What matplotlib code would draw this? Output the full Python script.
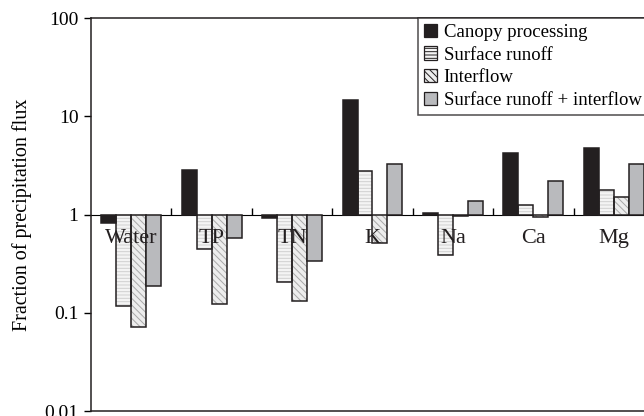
import numpy as np
import matplotlib.pyplot as plt
from matplotlib.patches import Patch

plt.rcParams["font.family"] = ["Liberation Serif", "DejaVu Serif"]
plt.rcParams["hatch.linewidth"] = 0.7

# Fraction of precipitation flux per constituent
categories = ["Water", "TP", "TN", "K", "Na", "Ca", "Mg"]
canopy = [0.82, 2.86, 0.93, 14.6, 1.03, 4.26, 4.79]
surface = [0.118, 0.447, 0.208, 2.77, 0.39, 1.24, 1.76]
interflow = [0.072, 0.123, 0.133, 0.518, 0.96, 0.94, 1.50]
combined = [0.188, 0.573, 0.339, 3.29, 1.38, 2.21, 3.24]

series_names = ["Canopy processing", "Surface runoff", "Interflow",
                "Surface runoff + interflow"]
series = [canopy, surface, interflow, combined]
faces = ["#231f20", "#f4f4f4", "#ededed", "#b9babd"]
hatches = [None, "-----", "\\\\\\\\\\", None]
hatch_cols = [None, "#d0d0d0", "#a8a8a8", None]
edge = "#231f20"

fig = plt.figure(figsize=(6.44, 4.16), dpi=100)
ax = fig.add_axes([0.1413, 0.012, 0.8742, 0.9447])

x = np.arange(len(categories))
w = 0.186
for k, vals in enumerate(series):
    pos = x + (k - 1.5) * w
    heights = [v - 1 for v in vals]
    if hatches[k]:
        ax.bar(pos, heights, w, bottom=1, color=faces[k], hatch=hatches[k],
               edgecolor=hatch_cols[k], linewidth=0, zorder=2)
        ax.bar(pos, heights, w, bottom=1, facecolor="none",
               edgecolor=edge, linewidth=1.1, zorder=3)
    else:
        ax.bar(pos, heights, w, bottom=1, color=faces[k],
               edgecolor=edge, linewidth=1.1, zorder=3)

ax.set_yscale("log")
ax.set_ylim(0.01, 100)
ax.set_xlim(-0.5, 6.5)
ax.set_yticks([0.01, 0.1, 1, 10, 100])
ax.set_yticklabels(["0.01", "0.1", "1", "10", "100"])
ax.minorticks_off()
ax.tick_params(axis="y", length=5, width=1, pad=4, labelsize=14)
ax.tick_params(axis="x", length=0, labelbottom=False)
for s in ax.spines.values():
    s.set_linewidth(1.1)
    s.set_color(edge)

# baseline at 1 with group separator ticks
sec = ax.secondary_xaxis(0.5)
sec.set_xticks(np.arange(len(categories)) + 0.5)
sec.set_xticklabels([""] * len(categories))
sec.tick_params(axis="x", direction="out", length=5, width=1)
sec.spines["bottom"].set_linewidth(1.1)
sec.spines["bottom"].set_color(edge)

for i, name in enumerate(categories):
    ax.text(i, 0.57, name, ha="center", va="center", fontsize=16, zorder=5,
            color="#231f20")

ax.set_ylabel("Fraction of precipitation flux", fontsize=14.5, labelpad=9)

handles = [Patch(facecolor=faces[k], edgecolor=edge, hatch=hatches[k],
                 linewidth=0.9) for k in range(4)]
leg = ax.legend(handles, series_names, loc="upper right",
                bbox_to_anchor=(0.9876, 1), borderaxespad=0, fontsize=13.5,
                frameon=True, fancybox=False, handlelength=0.7,
                handleheight=0.7, handletextpad=0.35, labelspacing=0.3,
                borderpad=0.3)
leg.get_frame().set_edgecolor(edge)
leg.get_frame().set_linewidth(1.1)

fig.savefig("out.png", dpi=100)
